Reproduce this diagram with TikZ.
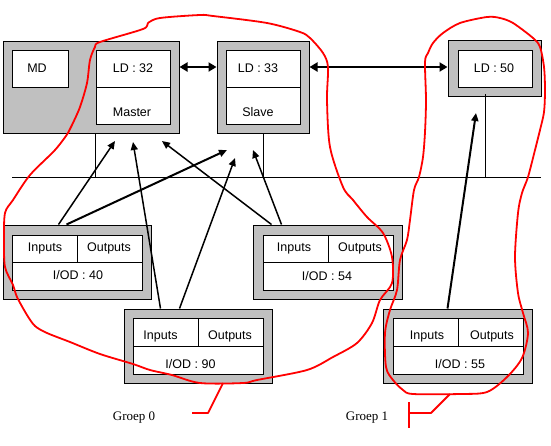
\documentclass[tikz,border=0pt]{standalone}
\usepackage{fontspec}
\setmainfont{Liberation Serif}
\setsansfont{Liberation Sans}
\usetikzlibrary{arrows.meta,calc}
\definecolor{boxgray}{RGB}{192,192,192}
\definecolor{grpred}{RGB}{255,0,0}
\begin{document}
\begin{tikzpicture}[x=1pt,y=-1pt,
  outer/.style={draw=black,fill=boxgray,line width=1pt,inner sep=0pt},
  cell/.style={draw=black,fill=white,line width=1pt,inner sep=0pt},
  txt/.style={font=\sffamily\fontsize{12.5}{14}\selectfont,inner sep=0pt,text height=9pt,text depth=0pt},
  grp/.style={font=\rmfamily\fontsize{13}{15}\selectfont,inner sep=0pt,text height=9pt,text depth=0pt},
  wire/.style={draw=black,line width=1pt},
  sig/.style={draw=black,line width=1.5pt,-{Triangle[length=8pt,width=7pt]}},
  link/.style={draw=black,line width=2pt,{Triangle[length=8pt,width=9pt]}-{Triangle[length=8pt,width=9pt]}},
  grploop/.style={draw=grpred,line width=1.8pt,line join=round},
]
\useasboundingbox (0,0) rectangle (551,445);

% ---- top devices ----
\node[outer,minimum width=176pt,minimum height=92pt] (mdbox) at (91,87) {};
\node[cell,minimum width=56pt,minimum height=37pt] (mdcell) at (40,68.5) {};
\node[txt] (mdtxt) at (37,68) {MD};
\node[cell,minimum width=74pt,minimum height=37pt] (ld32a) at (133,68.5) {};
\node[cell,minimum width=74pt,minimum height=37pt] (ld32b) at (133,105.5) {};
\node[txt] (ld32t) at (133,68) {LD : 32};
\node[txt] (ld32m) at (132,112) {Master};

\node[outer,minimum width=92pt,minimum height=92pt] (ld33) at (263,87) {};
\node[cell,minimum width=74pt,minimum height=37pt] (ld33a) at (263,68.5) {};
\node[cell,minimum width=74pt,minimum height=37pt] (ld33b) at (263,105.5) {};
\node[txt] (ld33t) at (258,68) {LD : 33};
\node[txt] (ld33s) at (258,112) {Slave};

\node[outer,minimum width=93pt,minimum height=56pt] (ld50) at (494.5,68) {};
\node[cell,minimum width=74pt,minimum height=37pt] (ld50a) at (495,68.5) {};
\node[txt] (ld50t) at (494,68) {LD : 50};

% ---- I/O devices ----
\node[outer,minimum width=148pt,minimum height=74pt] (iod40) at (77,262) {};
\node[cell,minimum width=65pt,minimum height=27pt] (iod40i) at (44.5,248.5) {};
\node[cell,minimum width=65pt,minimum height=27pt] (iod40o) at (109.5,248.5) {};
\node[cell,minimum width=130pt,minimum height=28pt] (iod40n) at (77,276) {};
\node[txt] (iod40it) at (45,247) {Inputs};
\node[txt] (iod40ot) at (109,247) {Outputs};
\node[txt] (iod40nt) at (78,275) {I/OD : 40};

\node[outer,minimum width=149pt,minimum height=74pt] (iod54) at (327.5,262) {};
\node[cell,minimum width=65pt,minimum height=27pt] (iod54i) at (295.5,248.5) {};
\node[cell,minimum width=65pt,minimum height=27pt] (iod54o) at (360.5,248.5) {};
\node[cell,minimum width=130pt,minimum height=28pt] (iod54n) at (328,276) {};
\node[txt] (iod54it) at (294,247) {Inputs};
\node[txt] (iod54ot) at (360,247) {Outputs};
\node[txt] (iod54nt) at (327,276) {I/OD : 54};

\node[outer,minimum width=148pt,minimum height=74pt] (iod90) at (198,346) {};
\node[cell,minimum width=65pt,minimum height=28pt] (iod90i) at (165.5,332) {};
\node[cell,minimum width=65pt,minimum height=28pt] (iod90o) at (230.5,332) {};
\node[cell,minimum width=130pt,minimum height=28pt] (iod90n) at (198,360) {};
\node[txt] (iod90it) at (160.5,335) {Inputs};
\node[txt] (iod90ot) at (230,335) {Outputs};
\node[txt] (iod90nt) at (190.5,364) {I/OD : 90};

\node[outer,minimum width=149pt,minimum height=74pt] (iod55) at (457.5,346) {};
\node[cell,minimum width=65pt,minimum height=28pt] (iod55i) at (425.5,332) {};
\node[cell,minimum width=65pt,minimum height=28pt] (iod55o) at (490.5,332) {};
\node[cell,minimum width=130pt,minimum height=28pt] (iod55n) at (458,360) {};
\node[txt] (iod55it) at (427,335) {Inputs};
\node[txt] (iod55ot) at (492,335) {Outputs};
\node[txt] (iod55nt) at (460,364) {I/OD : 55};

% ---- bus ----
\coordinate (busL) at (12,177);
\coordinate (busR) at (541,177);
\draw[wire] (busL) -- (busR);
\draw[wire] (ld32b.south west |- mdbox.south) -- (ld32b.south west |- busL);
\draw[wire] (ld33.south) -- (ld33.south |- busL);
\coordinate (ld50drop) at (485,94);
\draw[wire] (ld50drop) -- (ld50drop |- busL);
\draw[wire] ($(iod40.north west)+(46,0)$) -- ($(iod40.north west)+(46,0)$ |- busL);
\draw[wire] ($(iod90.north west)+(46,0)$) -- ($(iod90.north west)+(46,0)$ |- busL);
\draw[wire] ($(iod54.north west)+(47,0)$) -- ($(iod54.north west)+(47,0)$ |- busL);
\draw[wire] ($(iod55.north west)+(56,0)$) -- ($(iod55.north west)+(56,0)$ |- busL);

% ---- links between logical devices ----
\draw[link] ($(mdbox.east)+(0,-20)$) -- ($(ld33.west)+(0,-20)$);
\draw[link] ($(ld33.east)+(0,-20)$) -- ($(ld50.west)+(0,-1)$);

% ---- data arrows ----
\coordinate (t1) at (115,141);
\coordinate (t2) at (227,150);
\coordinate (t3) at (133,142);
\coordinate (t4) at (235,158);
\coordinate (t5) at (162,141);
\coordinate (t6) at (253,150);
\coordinate (t7) at (476,113);
\draw[sig] ($(iod40.north west)+(56,0)$) -- (t1);
\draw[sig,line width=2pt] ($(iod40.north west)+(64,0)$) -- (t2);
\draw[sig] ($(iod90.north west)+(37,0)$) -- (t3);
\draw[sig] ($(iod90.north west)+(56,0)$) -- (t4);
\draw[sig] ($(iod54.north west)+(19,0)$) -- (t5);
\draw[sig] ($(iod54.north west)+(29,0)$) -- (t6);
\draw[sig,line width=2pt] ($(iod55.north west)+(65,0)$) -- (t7);

% ---- groups ----
\draw[grploop] plot[smooth cycle,tension=0.5] coordinates {
 (392,283) (380,300) (372,323) (357,343) (333,357) (307,370) (257,380) (243,383)
 (200,383) (172,375) (150,370) (133,364) (100,354) (70,342) (47,333) (35,326)
 (27,315) (17,297) (13,285) (5,267) (4,240) (5,213) (13,200) (30,175) (55,150)
 (68,133) (72,125) (80,107) (87,83) (90,60) (95,47) (100,42) (143,29) (148,23)
 (160,18) (200,15) (213,16) (267,23) (300,32) (310,38) (323,53) (328,67)
 (327,100) (330,147) (343,187) (353,200) (367,217) (383,233) (392,257)};
\draw[grploop] plot[smooth cycle,tension=0.5] coordinates {
 (487,17) (500,18) (513,23) (533,38) (540,47) (544,67) (545,90) (544,112)
 (540,130) (535,150) (528,177) (522,193) (518,213) (515,257) (518,293) (523,313)
 (528,333) (522,358) (507,377) (487,392) (460,394) (413,394) (403,390) (393,380)
 (386,367) (385,333) (390,310) (397,290) (400,260) (407,240) (410,220) (414,190)
 (419,177) (423,157) (425,132) (426,100) (425,62) (428,53) (433,43) (443,33) (460,23)};
\draw[grploop] (223,383) -- (208,413) -- (192,413);
\draw[grploop] (450,394) -- (431,413) -- (409,413);
\draw[grploop] (409,402) -- (409,428);
\node[grp] (g0) at (134,416) {Groep 0};
\node[grp] (g1) at (367,416) {Groep 1};
\end{tikzpicture}
\end{document}
